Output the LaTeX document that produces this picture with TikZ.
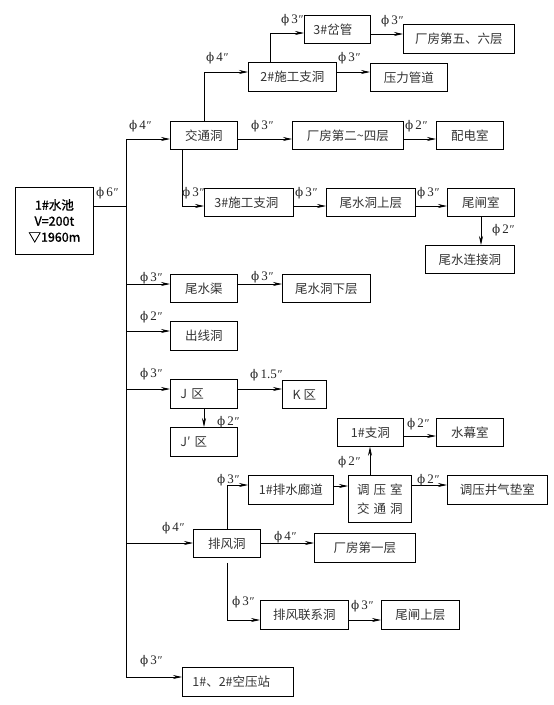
\documentclass[tikz,border=0pt]{standalone}
\usepackage{fontspec}
\setmainfont{Liberation Serif}
\newfontfamily\cjk{Noto Sans CJK SC}
\newfontfamily\cjkb[FakeBold=1.2]{Noto Sans CJK SC}
\newfontfamily\djv{DejaVu Serif}
\usetikzlibrary{arrows.meta,calc}
\tikzset{
  box/.style={draw, line width=0.8pt, inner sep=0pt, anchor=north west,
    font=\cjk\fontsize{12.5}{15}\selectfont, text=black!80},
  lft/.style={text width=#1, align=left},
  arr/.style={line width=0.7pt, -{Stealth[length=9pt,width=4pt,inset=3pt]}},
  ln/.style={line width=0.7pt},
  lab/.style={inner sep=0pt, font=\fontsize{13}{15}\selectfont, text=black!85},
}
\newcommand\phd[1]{{\djv\fontsize{12}{14}\selectfont ϕ}\,#1{\fontsize{12}{14}\selectfont\itshape″}}
\begin{document}
\begin{tikzpicture}[x=1pt,y=-1pt]
\useasboundingbox (0,0) rectangle (554,705);
% boxes
\node[box, minimum width=78pt, minimum height=67pt, align=center, font=\cjkb\fontsize{12.5}{16}\selectfont, text=black] (pool) at (15,187)
  {1\#水池\\V=200t\\▽1960m};
\node[box, minimum width=67pt, minimum height=28pt] (jtd) at (170,121) {交通洞};
\node[box, minimum width=88pt, minimum height=29pt] (sg2) at (248,62) {2\#施工支洞};
\node[box, minimum width=66pt, minimum height=28pt, lft=48pt] (cg3) at (304,15) {3\#岔管};
\node[box, minimum width=111pt, minimum height=29pt] (cf56) at (403,24) {厂房第五、六层};
\node[box, minimum width=77pt, minimum height=28pt] (ylgd) at (370,63) {压力管道};
\node[box, minimum width=111pt, minimum height=28pt] (cf24) at (292,121) {厂房第二{\char"7E}四层};
\node[box, minimum width=67pt, minimum height=28pt] (pds) at (436,121) {配电室};
\node[box, minimum width=89pt, minimum height=28pt, lft=69pt] (sg3) at (204,188) {3\#施工支洞};
\node[box, minimum width=89pt, minimum height=28pt] (wsd) at (326,188) {尾水洞上层};
\node[box, minimum width=67pt, minimum height=28pt] (wzs) at (447,188) {尾闸室};
\node[box, minimum width=89pt, minimum height=28pt] (wlj) at (425,245) {尾水连接洞};
\node[box, minimum width=67pt, minimum height=28pt] (wsq) at (170,274) {尾水渠};
\node[box, minimum width=88pt, minimum height=28pt] (wxc) at (282,274) {尾水洞下层};
\node[box, minimum width=67pt, minimum height=29pt] (cxd) at (170,321) {出线洞};
\node[box, minimum width=67pt, minimum height=29pt, lft=47pt] (jq) at (170,379) {J 区};
\node[box, minimum width=44pt, minimum height=28pt] (kq) at (282,380) {K 区};
\node[box, minimum width=67pt, minimum height=29pt, lft=47pt] (jpq) at (170,427) {J′ 区};
\node[box, minimum width=67pt, minimum height=28pt] (pfd) at (193,529) {排风洞};
\node[box, minimum width=85pt, minimum height=29pt] (psl) at (248,475) {1\#排水廊道};
\node[box, minimum width=63pt, minimum height=47pt, align=center] (tys) at (348,475)
  {调\hspace{4pt}压\hspace{4pt}室\\[4pt]交\hspace{4pt}通\hspace{4pt}洞};
\node[box, minimum width=66pt, minimum height=28pt] (zd1) at (337,418) {1\#支洞};
\node[box, minimum width=67pt, minimum height=28pt] (smd) at (436,418) {水幕室};
\node[box, minimum width=100pt, minimum height=29pt] (qds) at (447,475) {调压井气垫室};
\node[box, minimum width=101pt, minimum height=29pt] (cf1) at (314,533) {厂房第一层};
\node[box, minimum width=88pt, minimum height=29pt] (pflx) at (260,600) {排风联系洞};
\node[box, minimum width=78pt, minimum height=29pt] (wzsc) at (381,600) {尾闸上层};
\node[box, minimum width=111pt, minimum height=29pt, lft=91pt] (kyz) at (182,667) {1\#、2\#空压站};
% trunk
\coordinate (tr) at (126,139);
\coordinate (tb) at (126,677);
\draw[ln] (tr) -- (tb);
\draw[ln] (pool.east |- 0,206) -- (tr |- 0,206);
% connectors
\draw[arr] (tr |- 0,139) -- (jtd.west |- 0,139);
\draw[arr] (jtd.north -| 204,0) |- (sg2.west |- 0,72);
\draw[arr] (sg2.north -| 270,0) |- (cg3.west |- 0,33);
\draw[arr] (cg3.east |- 0,34) -- (cf56.west |- 0,34);
\draw[arr] (sg2.east |- 0,72) -- (ylgd.west |- 0,72);
\draw[arr] (jtd.east |- 0,139) -- (cf24.west |- 0,139);
\draw[arr] (cf24.east |- 0,139) -- (pds.west |- 0,139);
\draw[arr] (jtd.south -| 182,0) |- (sg3.west |- 0,206);
\draw[arr] (sg3.east |- 0,206) -- (wsd.west |- 0,206);
\draw[arr] (wsd.east |- 0,206) -- (wzs.west |- 0,206);
\draw[arr] (wzs.south -| 481,0) -- (wlj.north -| 481,0);
\draw[arr] (tr |- 0,284) -- (wsq.west |- 0,284);
\draw[arr] (wsq.east |- 0,284) -- (wxc.west |- 0,284);
\draw[arr] (tr |- 0,331) -- (cxd.west |- 0,331);
\draw[arr] (tr |- 0,389) -- (jq.west |- 0,389);
\draw[arr] (jq.east |- 0,389) -- (kq.west |- 0,389);
\draw[arr] (jq.south -| 204,0) -- (jpq.north -| 204,0);
\draw[arr] (tr |- 0,543) -- (pfd.west |- 0,543);
\draw[arr] (pfd.north -| 227,0) |- (psl.west |- 0,485);
\draw[arr] (psl.east |- 0,486) -- (tys.west |- 0,486);
\draw[arr] (tys.north -| 370,0) -- (zd1.south -| 370,0);
\draw[arr] (zd1.east |- 0,436) -- (smd.west |- 0,436);
\draw[arr] (tys.east |- 0,485) -- (qds.west |- 0,485);
\draw[arr] (pfd.east |- 0,543) -- (cf1.west |- 0,543);
\draw[arr, shorten <=5pt] (pfd.south -| 227,0) |- (pflx.west |- 0,620);
\draw[arr] (pflx.east |- 0,620) -- (wzsc.west |- 0,620);
\draw[arr] (tr |- 0,677) -- (kyz.west |- 0,677);
% labels
\node[lab] (l1) at (107,193) {\phd{6}};
\node[lab] (l2) at (140,126) {\phd{4}};
\node[lab] (l3) at (217,58) {\phd{4}};
\node[lab] (l4) at (292,20) {\phd{3}};
\node[lab] (l5) at (392,21) {\phd{3}};
\node[lab] (l6) at (349,58) {\phd{3}};
\node[lab] (l7) at (262,126) {\phd{3}};
\node[lab] (l8) at (416,126) {\phd{2}};
\node[lab] (l9) at (193,193) {\phd{3}};
\node[lab] (l10) at (306,193) {\phd{3}};
\node[lab] (l11) at (428,193) {\phd{3}};
\node[lab] (l12) at (503,230) {\phd{2}};
\node[lab] (l13) at (151,278) {\phd{3}};
\node[lab] (l14) at (262,277) {\phd{3}};
\node[lab] (l15) at (151,317) {\phd{2}};
\node[lab] (l16) at (151,374) {\phd{3}};
\node[lab] (l17) at (266,375) {\phd{1.5}};
\node[lab] (l18) at (228,422) {\phd{2}};
\node[lab] (l19) at (173,528) {\phd{4}};
\node[lab] (l20) at (228,480) {\phd{3}};
\node[lab] (l21) at (349,462) {\phd{2}};
\node[lab] (l22) at (418,424) {\phd{2}};
\node[lab] (l23) at (428,480) {\phd{2}};
\node[lab] (l24) at (285,537) {\phd{4}};
\node[lab] (l25) at (243,602) {\phd{3}};
\node[lab] (l26) at (362,606) {\phd{3}};
\node[lab] (l27) at (151,661) {\phd{3}};
\end{tikzpicture}
\end{document}
